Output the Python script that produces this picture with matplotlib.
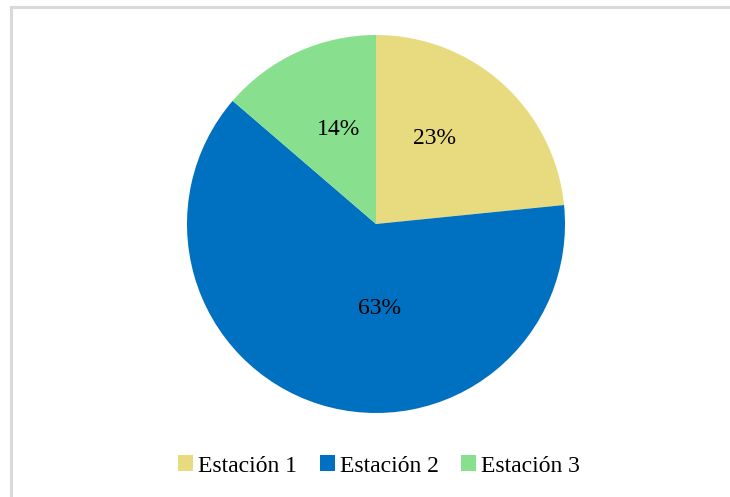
import matplotlib
matplotlib.use("Agg")
import matplotlib.pyplot as plt
import matplotlib.patheffects as pe

categories = ["Estación 1", "Estación 2", "Estación 3"]
values = [23.4, 62.9, 13.7]
colors = ["#E8DA7E", "#0070C0", "#88E08E"]

plt.rcParams['font.family'] = ['Liberation Serif', 'DejaVu Serif']

W, H = 730, 497
fig = plt.figure(figsize=(W / 100, H / 100), dpi=100)
fig.patch.set_facecolor("white")

# frame (left and top edges visible)
fig.add_artist(plt.Line2D([10.5 / W, 10.5 / W], [0, 1 - 6.5 / H], color="#D9D9D9", lw=2.2))
fig.add_artist(plt.Line2D([10.5 / W, 1], [1 - 6.5 / H, 1 - 6.5 / H], color="#D9D9D9", lw=2.2))

cx, cy, r = 376, 224, 189
ax = fig.add_axes([(cx - r) / W, (H - cy - r) / H, 2 * r / W, 2 * r / H])
wedges, texts, autotexts = ax.pie(
    values, colors=colors, startangle=90, counterclock=False,
    autopct=lambda p: f"{p:.0f}%", pctdistance=0.55, radius=1,
    wedgeprops=dict(linewidth=0),
    textprops=dict(fontsize=17, color="black"))
for w in wedges:
    w.set_path_effects([pe.SimpleLineShadow(offset=(1.5, -1.5), shadow_color="gray", alpha=0.35), pe.Normal()])
label_pos = [(0.31, 0.455), (0.02, -0.445), (-0.20, 0.50)]
for t, p in zip(autotexts, label_pos):
    t.set_position(p)
ax.set_xlim(-1, 1)
ax.set_ylim(-1, 1)
ax.set_aspect("equal")

leg = fig.legend(wedges, categories, loc="center", bbox_to_anchor=(379 / W, 1 - 466 / H),
                 ncol=3, frameon=False, fontsize=17, handlelength=0.65, handleheight=0.65,
                 handletextpad=0.2, columnspacing=0.95)

fig.savefig("out.png", dpi=100, facecolor="white")
